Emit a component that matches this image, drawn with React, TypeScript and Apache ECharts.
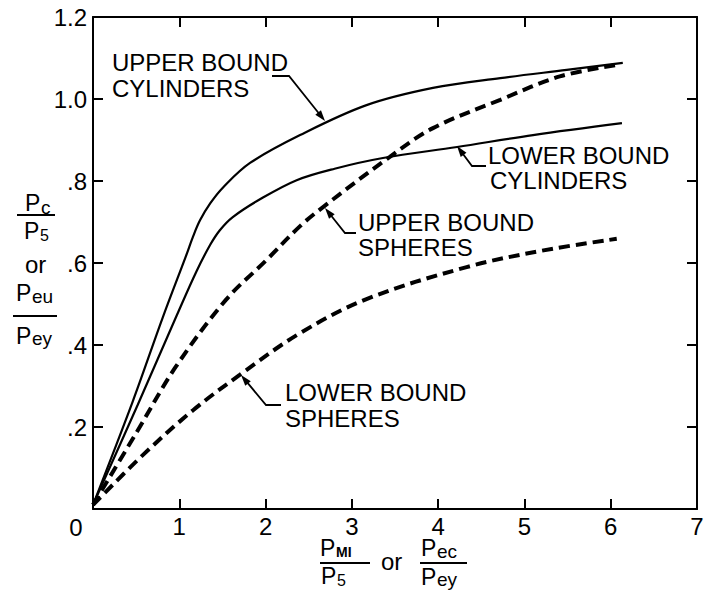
import React, { useEffect, useRef } from "react";
import * as echarts from "echarts";

// ---- data ----
const xTickLabels = ["0", "1", "2", "3", "4", "5", "6", "7"];
const yTickLabels = ["", ".2", ".4", ".6", ".8", "1.0", "1.2"];

const upperCylX = [0, 0.46, 0.81, 1.09, 1.155, 1.24, 1.36, 1.51, 1.82, 2.4, 3.17, 3.94, 4.72, 5.49, 6.14];
const upperCylY = [0.01, 0.262, 0.468, 0.624, 0.662, 0.704, 0.746, 0.785, 0.844, 0.912, 0.985, 1.027, 1.051, 1.071, 1.088];

const lowerCylX = [0, 0.52, 0.97, 1.2, 1.36, 1.47, 1.62, 1.94, 2.36, 2.8, 3.36, 4.22, 5.1, 6.13];
const lowerCylY = [0.01, 0.255, 0.472, 0.58, 0.645, 0.68, 0.712, 0.756, 0.802, 0.83, 0.856, 0.883, 0.912, 0.941];

const upperSphX = [0, 0.5, 0.96, 1.54, 2.0, 2.4, 2.67, 3.44, 3.94, 4.72, 5.41, 6.07];
const upperSphY = [0.01, 0.185, 0.347, 0.51, 0.605, 0.69, 0.737, 0.859, 0.929, 0.998, 1.055, 1.083];

const lowerSphX = [0, 0.58, 1.16, 1.7, 2.4, 3.17, 4.33, 5.2, 6.07];
const lowerSphY = [0.01, 0.132, 0.241, 0.327, 0.429, 0.512, 0.59, 0.63, 0.659];

const FONT = '"Liberation Sans", Arial, sans-serif';

function pairs(xs: number[], ys: number[]) {
  return xs.map((x, i) => [x, ys[i]]);
}

function txt(x: number, y: number, text: string, size: number, weight = "normal") {
  return {
    type: "text",
    x,
    y,
    silent: true,
    style: {
      text,
      fill: "#000",
      font: `${weight} ${size}px ${FONT}`,
      lineHeight: Math.round(size * 0.75),
      align: "left",
      verticalAlign: "middle",
    },
  };
}

function hline(x1: number, x2: number, y: number) {
  return {
    type: "line",
    silent: true,
    shape: { x1, y1: y, x2, y2: y },
    style: { stroke: "#000", lineWidth: 2 },
  };
}

function leader(points: number[][]) {
  // points: end(near text) -> elbow -> tip
  const tip = points[points.length - 1];
  const prev = points[points.length - 2];
  const dx = tip[0] - prev[0];
  const dy = tip[1] - prev[1];
  const len = Math.hypot(dx, dy);
  const ux = dx / len;
  const uy = dy / len;
  const L = 11;
  const W = 3.6;
  const bx = tip[0] - ux * L;
  const by = tip[1] - uy * L;
  return [
    {
      type: "polyline",
      silent: true,
      shape: { points: [...points.slice(0, -1), [bx + ux * 2, by + uy * 2]] },
      style: { stroke: "#000", lineWidth: 1.8, fill: null },
    },
    {
      type: "polygon",
      silent: true,
      shape: {
        points: [
          tip,
          [bx - uy * W, by + ux * W],
          [bx + uy * W, by - ux * W],
        ],
      },
      style: { fill: "#000" },
    },
  ];
}

export default function App() {
  const ref = useRef<HTMLDivElement>(null);

  useEffect(() => {
    const chart = echarts.init(ref.current!, null, { renderer: "svg" });

    const axisCommon = {
      type: "value",
      axisLine: { show: true, onZero: false, lineStyle: { color: "#000", width: 2 } },
      axisTick: { show: true, inside: true, length: 10, lineStyle: { color: "#000", width: 2 } },
      splitLine: { show: false },
    };

    const solid = { color: "#000", width: 2.2 };
    const dashed = { color: "#000", width: 4, type: [11, 6] };

    const graphic: any[] = [
      // annotations
      txt(112, 62, "UPPER BOUND", 24),
      txt(112, 88, "CYLINDERS", 24),
      ...leader([[272, 76], [289, 76], [325, 121]]),

      txt(488, 155, "LOWER BOUND", 24),
      txt(490, 180, "CYLINDERS", 24),
      ...leader([[486, 166], [472, 166], [457, 146]]),

      txt(358, 222, "UPPER BOUND", 24),
      txt(358, 247, "SPHERES", 24),
      ...leader([[356, 233], [345, 233], [325, 208]]),

      txt(285, 392, "LOWER BOUND", 24),
      txt(285, 418, "SPHERES", 24),
      ...leader([[281, 405], [266, 405], [241, 375]]),

      // y-axis title
      txt(25, 203, "P", 23),
      txt(41, 207, "c", 19),
      hline(17, 55, 215),
      txt(24, 231, "P", 23),
      txt(40, 235, "5", 16),
      txt(25, 264, "or", 24),
      txt(16, 293, "P", 23),
      txt(32, 296, "eu", 19),
      hline(13, 57, 316),
      txt(16, 336, "P", 23),
      txt(32, 338, "ey", 19),

      // x-axis title
      txt(320, 548, "P", 23),
      txt(336, 552, "MI", 14, "bold"),
      hline(320, 370, 563),
      txt(321, 576, "P", 23),
      txt(337, 580, "5", 16),
      txt(381, 561, "or", 24),
      txt(421, 548, "P", 23),
      txt(437, 551, "ec", 19),
      hline(420, 467, 563),
      txt(421, 577, "P", 23),
      txt(437, 579, "ey", 19),
    ];

    chart.setOption({
      animation: false,
      backgroundColor: "#fff",
      grid: { left: 93, right: 10, top: 17, bottom: 104, containLabel: false },
      xAxis: [
        {
          ...axisCommon,
          position: "bottom",
          min: 0,
          max: 7,
          interval: 1,
          axisLabel: {
            show: true,
            color: "#000",
            fontSize: 24,
            fontFamily: FONT,
            lineHeight: 20,
            margin: 7,
            formatter: (v: number) => {
              const s = xTickLabels[Math.round(v)];
              return v === 0 ? `{z|${s}}` : s;
            },
            rich: {
              z: { fontSize: 24, fontFamily: FONT, color: "#000", lineHeight: 20, padding: [3, 34, 0, 0] },
            },
          },
        },
        {
          ...axisCommon,
          position: "top",
          min: 0,
          max: 7,
          interval: 1,
          axisLabel: { show: false },
        },
      ],
      yAxis: [
        {
          ...axisCommon,
          position: "left",
          min: 0,
          max: 1.2,
          interval: 0.2,
          axisLabel: {
            show: true,
            color: "#000",
            fontSize: 24,
            fontFamily: FONT,
            margin: 6,
            formatter: (v: number) => yTickLabels[Math.round(v / 0.2)] ?? "",
          },
        },
        {
          ...axisCommon,
          position: "right",
          min: 0,
          max: 1.2,
          interval: 0.2,
          axisLabel: { show: false },
        },
      ],
      series: [
        { name: "Upper bound cylinders", type: "line", data: pairs(upperCylX, upperCylY), showSymbol: false, symbol: "none", smooth: 0.35, lineStyle: solid },
        { name: "Lower bound cylinders", type: "line", data: pairs(lowerCylX, lowerCylY), showSymbol: false, symbol: "none", smooth: 0.35, lineStyle: solid },
        { name: "Upper bound spheres", type: "line", data: pairs(upperSphX, upperSphY), showSymbol: false, symbol: "none", smooth: 0.35, lineStyle: dashed },
        { name: "Lower bound spheres", type: "line", data: pairs(lowerSphX, lowerSphY), showSymbol: false, symbol: "none", smooth: 0.35, lineStyle: dashed },
      ],
      graphic,
    });

    return () => chart.dispose();
  }, []);

  return (
    <div
      ref={ref}
      style={{ position: "fixed", left: 0, top: 0, width: 707, height: 613, background: "#fff" }}
    />
  );
}
